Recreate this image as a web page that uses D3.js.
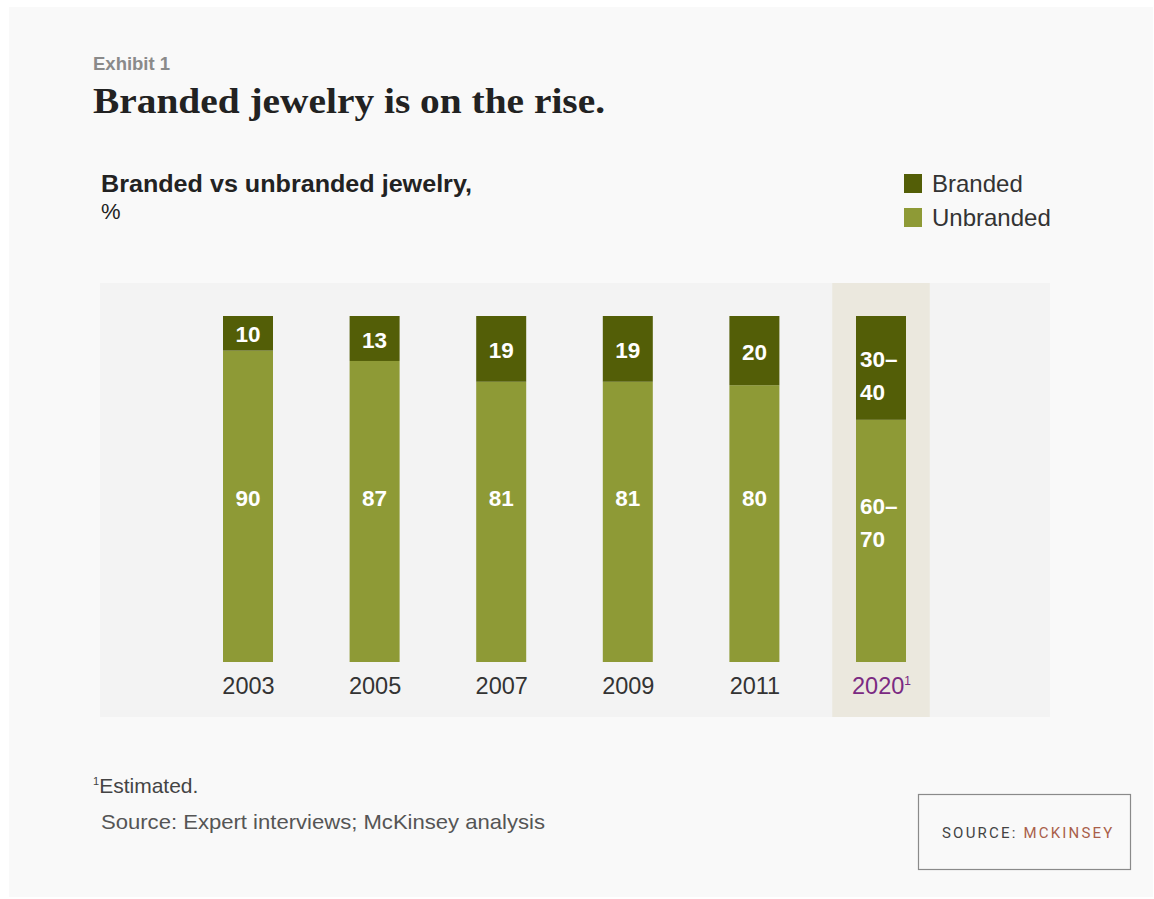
<!DOCTYPE html>
<html>
<head>
<meta charset="utf-8">
<script src="https://cdn.jsdelivr.net/npm/d3@7"></script>
<style>
  html, body { margin: 0; padding: 0; background: #ffffff; }
  svg { display: block; }
</style>
</head>
<body>
<svg id="chart" width="1154" height="899"></svg>
<script>
// ---- data ----
const years = ["2003", "2005", "2007", "2009", "2011", "2020"];
const brandedValues = [10, 13, 19, 19, 20, 30];      // 2020 estimate 30–40, drawn at low end
const unbrandedValues = [90, 87, 81, 81, 80, 70];    // 2020 estimate 60–70, drawn at high end
const brandedLabels = [["10"], ["13"], ["19"], ["19"], ["20"], ["30–", "40"]];
const unbrandedLabels = [["90"], ["87"], ["81"], ["81"], ["80"], ["60–", "70"]];
const estimatedYear = "2020";
const seriesNames = ["Branded", "Unbranded"];

// ---- style ----
const C = {
  branded: "#535e07",
  unbranded: "#8e9a36",
  card: "#f9f9f9",
  panel: "#f3f3f3",
  band: "#ebe8de",
  purple: "#7b2a82",
  text: "#222222"
};
const SANS = "'Liberation Sans', Arial, Helvetica, sans-serif";
const SERIF = "'Liberation Serif', 'DejaVu Serif', Georgia, serif";

const svg = d3.select("#chart");

// card
svg.append("rect").attr("x", 9).attr("y", 7).attr("width", 1144).attr("height", 890).attr("fill", C.card);

function fit(sel, w) {
  sel.attr("textLength", w).attr("lengthAdjust", "spacingAndGlyphs");
  return sel;
}

// header
svg.append("text").attr("x", 93).attr("y", 70)
  .attr("font-family", SANS).attr("font-weight", "bold").attr("font-size", 18.5)
  .attr("fill", "#8a8a8a").text("Exhibit 1");

fit(svg.append("text").attr("x", 93).attr("y", 113)
  .attr("font-family", SERIF).attr("font-weight", "bold").attr("font-size", 36)
  .attr("fill", C.text).text("Branded jewelry is on the rise."), 512);

fit(svg.append("text").attr("x", 101).attr("y", 192)
  .attr("font-family", SANS).attr("font-weight", "bold").attr("font-size", 23)
  .attr("fill", C.text).text("Branded vs unbranded jewelry,"), 371);
svg.append("text").attr("x", 101).attr("y", 219)
  .attr("font-family", SANS).attr("font-size", 22)
  .attr("fill", C.text).text("%");

// legend
const legend = svg.append("g").attr("transform", "translate(904,174)");
seriesNames.forEach((name, i) => {
  const g = legend.append("g").attr("transform", `translate(0,${i * 34})`);
  g.append("rect").attr("width", 18).attr("height", 19)
    .attr("fill", i === 0 ? C.branded : C.unbranded);
  g.append("text").attr("x", 28).attr("y", 18)
    .attr("font-family", SANS).attr("font-size", 24).attr("fill", "#333")
    .text(name);
});

// chart panel
const panel = { x0: 100, x1: 1050, y0: 283, y1: 717 };
svg.append("rect").attr("x", panel.x0).attr("y", panel.y0)
  .attr("width", panel.x1 - panel.x0).attr("height", panel.y1 - panel.y0)
  .attr("fill", C.panel);

const x = d3.scalePoint().domain(years).range([248, 881]);
const step = x.step();
const barW = 50;
const y = d3.scaleLinear().domain([0, 100]).range([662, 316]);

// highlight band for estimate
const bandW = step * 0.77;
svg.append("rect")
  .attr("x", x(estimatedYear) - bandW / 2).attr("y", panel.y0)
  .attr("width", bandW).attr("height", panel.y1 - panel.y0)
  .attr("fill", C.band);

const rows = years.map((yr, i) => ({
  year: yr, b: brandedValues[i], u: unbrandedValues[i],
  bl: brandedLabels[i], ul: unbrandedLabels[i]
}));

const bars = svg.append("g");
// unbranded (bottom)
bars.selectAll("rect.u").data(rows).join("rect").attr("class", "u")
  .attr("x", d => x(d.year) - barW / 2)
  .attr("y", d => y(d.u))
  .attr("width", barW)
  .attr("height", d => y(0) - y(d.u))
  .attr("fill", C.unbranded);
// branded (top)
bars.selectAll("rect.b").data(rows).join("rect").attr("class", "b")
  .attr("x", d => x(d.year) - barW / 2)
  .attr("y", d => y(d.u + d.b))
  .attr("width", barW)
  .attr("height", d => y(d.u) - y(d.u + d.b))
  .attr("fill", C.branded);

// value labels
const lineH = 33;
const unbrandedLevel = 47.5;
rows.forEach(d => {
  const cx = x(d.year);
  // branded label
  const bCenter = (y(d.u + d.b) + y(d.u)) / 2 + (d.bl.length > 1 ? 7 : 1);
  d.bl.forEach((t, k) => {
    const cy = bCenter + (k - (d.bl.length - 1) / 2) * lineH;
    svg.append("text")
      .attr("x", d.bl.length > 1 ? cx - barW / 2 + 4 : cx)
      .attr("y", cy).attr("dy", "0.36em")
      .attr("text-anchor", d.bl.length > 1 ? "start" : "middle")
      .attr("font-family", SANS).attr("font-weight", "bold").attr("font-size", 22.5)
      .attr("fill", "#ffffff").text(t);
  });
  // unbranded label
  const uCenter = y(unbrandedLevel) + (d.ul.length > 1 ? 25 : 0);
  d.ul.forEach((t, k) => {
    const cy = uCenter + (k - (d.ul.length - 1) / 2) * lineH;
    svg.append("text")
      .attr("x", d.ul.length > 1 ? cx - barW / 2 + 4 : cx)
      .attr("y", cy).attr("dy", "0.36em")
      .attr("text-anchor", d.ul.length > 1 ? "start" : "middle")
      .attr("font-family", SANS).attr("font-weight", "bold").attr("font-size", 22.5)
      .attr("fill", "#ffffff").text(t);
  });
});

// x axis labels
const xAxis = svg.append("g").attr("transform", "translate(0,662)")
  .call(d3.axisBottom(x).tickSize(0).tickPadding(0).tickFormat(() => ""));
xAxis.select(".domain").remove();
xAxis.selectAll(".tick").each(function(yr) {
  const t = d3.select(this).append("text")
    .attr("y", 32).attr("text-anchor", "middle")
    .attr("font-family", SANS).attr("font-size", 23.5)
    .attr("fill", yr === estimatedYear ? C.purple : "#333");
  t.append("tspan").text(yr);
  if (yr === estimatedYear) {
    t.append("tspan").attr("dy", -9).attr("font-size", 12).text("1");
  }
});

// footnotes
const fn = svg.append("text").attr("x", 93).attr("y", 793)
  .attr("font-family", SANS).attr("font-size", 21).attr("fill", "#444");
fn.append("tspan").attr("font-size", 11).attr("dy", -8).text("1");
fn.append("tspan").attr("dy", 8).text("Estimated.");

fit(svg.append("text").attr("x", 101).attr("y", 829)
  .attr("font-family", SANS).attr("font-size", 21).attr("fill", "#555")
  .text("Source: Expert interviews; McKinsey analysis"), 444);

// source box
svg.append("rect").attr("x", 918.5).attr("y", 794.5).attr("width", 212).attr("height", 75)
  .attr("fill", "none").attr("stroke", "#8a8a8a").attr("stroke-width", 1.2);
const src = svg.append("text").attr("x", 942).attr("y", 838)
  .attr("font-family", "Roboto, 'Liberation Sans', sans-serif").attr("font-size", 15)
  .attr("letter-spacing", 2.2);
src.append("tspan").attr("fill", "#444").text("SOURCE: ");
src.append("tspan").attr("fill", "#a9604a").text("MCKINSEY");
</script>
</body>
</html>
